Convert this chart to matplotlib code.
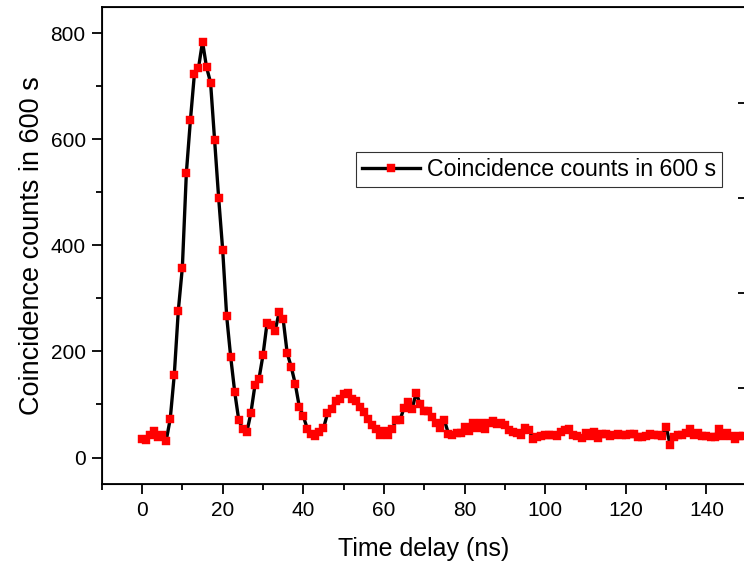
import matplotlib
matplotlib.use("Agg")
import matplotlib.pyplot as plt
from matplotlib.ticker import MultipleLocator

plt.rcParams["font.family"] = ["Liberation Sans", "DejaVu Sans"]

# time delay in ns (1 ns bins) and counts
delay_ns = list(range(150))
counts = [34, 33, 43, 50, 39, 43, 32, 73, 156, 277,
          358, 537, 636, 724, 734, 784, 736, 707, 598, 490,
          392, 266, 189, 123, 70, 54, 48, 84, 136, 148,
          193, 253, 249, 238, 274, 261, 197, 171, 139, 96,
          78, 54, 45, 40, 48, 55, 83, 92, 107, 110,
          119, 122, 110, 107, 95, 86, 72, 62, 53, 43,
          50, 43, 53, 71, 71, 94, 104, 92, 122, 100,
          87, 87, 77, 65, 55, 70, 45, 43, 46, 46,
          57, 50, 65, 55, 66, 54, 65, 68, 64, 66,
          62, 51, 48, 46, 43, 56, 51, 35, 39, 40,
          42, 43, 43, 40, 49, 51, 54, 43, 40, 36,
          46, 40, 48, 37, 45, 45, 41, 43, 45, 43,
          43, 45, 45, 38, 38, 41, 45, 42, 43, 41,
          58, 23, 39, 43, 43, 46, 53, 43, 46, 41,
          41, 39, 38, 54, 40, 46, 41, 35, 40, 41]

fig = plt.figure(figsize=(7.44, 5.64), dpi=100)
# right spine sits just past the image edge, like the cropped original
ax = fig.add_axes([0.1367, 0.1418, 0.866, 0.8463])

ax.plot(delay_ns, counts, color="black", linewidth=2.4, marker="s",
        markersize=5.2, markerfacecolor="red", markeredgecolor="red",
        markeredgewidth=0.3, label="Coincidence counts in 600 s")

ax.set_xlim(-10, 149.8)
ax.set_ylim(-50, 850)
ax.xaxis.set_major_locator(MultipleLocator(20))
ax.xaxis.set_minor_locator(MultipleLocator(10))
ax.yaxis.set_major_locator(MultipleLocator(200))
ax.yaxis.set_minor_locator(MultipleLocator(100))

ax.tick_params(which="both", direction="out", width=1.3, labelsize=15,
               top=False, right=False)
ax.tick_params(which="major", length=7)
ax.tick_params(which="minor", length=4)
ax.tick_params(axis="x", pad=5.5)
ax.tick_params(axis="y", pad=4.5)
for s in ax.spines.values():
    s.set_linewidth(1.3)

# second axis on the right, only its inward ticks show
ax2 = ax.twinx()
ax2.set_ylim(-0.01, 5.01)
ax2.set_yticks([1, 2, 3, 4])
ax2.tick_params(direction="in", length=6, width=1.3, labelright=False)

ax.set_xlabel("Time delay (ns)", fontsize=18, labelpad=12)
ax.set_ylabel("Coincidence counts in 600 s", fontsize=19.5, labelpad=4)

leg = ax.legend(loc="upper right", bbox_to_anchor=(0.970, 0.7305),
                bbox_transform=fig.transFigure, fontsize=16.7, frameon=True,
                fancybox=False, borderpad=0.25, handlelength=2.5,
                handletextpad=0.3, borderaxespad=0)
leg.get_frame().set_edgecolor("black")
leg.get_frame().set_linewidth(0.8)

fig.savefig("out.png", dpi=100)
